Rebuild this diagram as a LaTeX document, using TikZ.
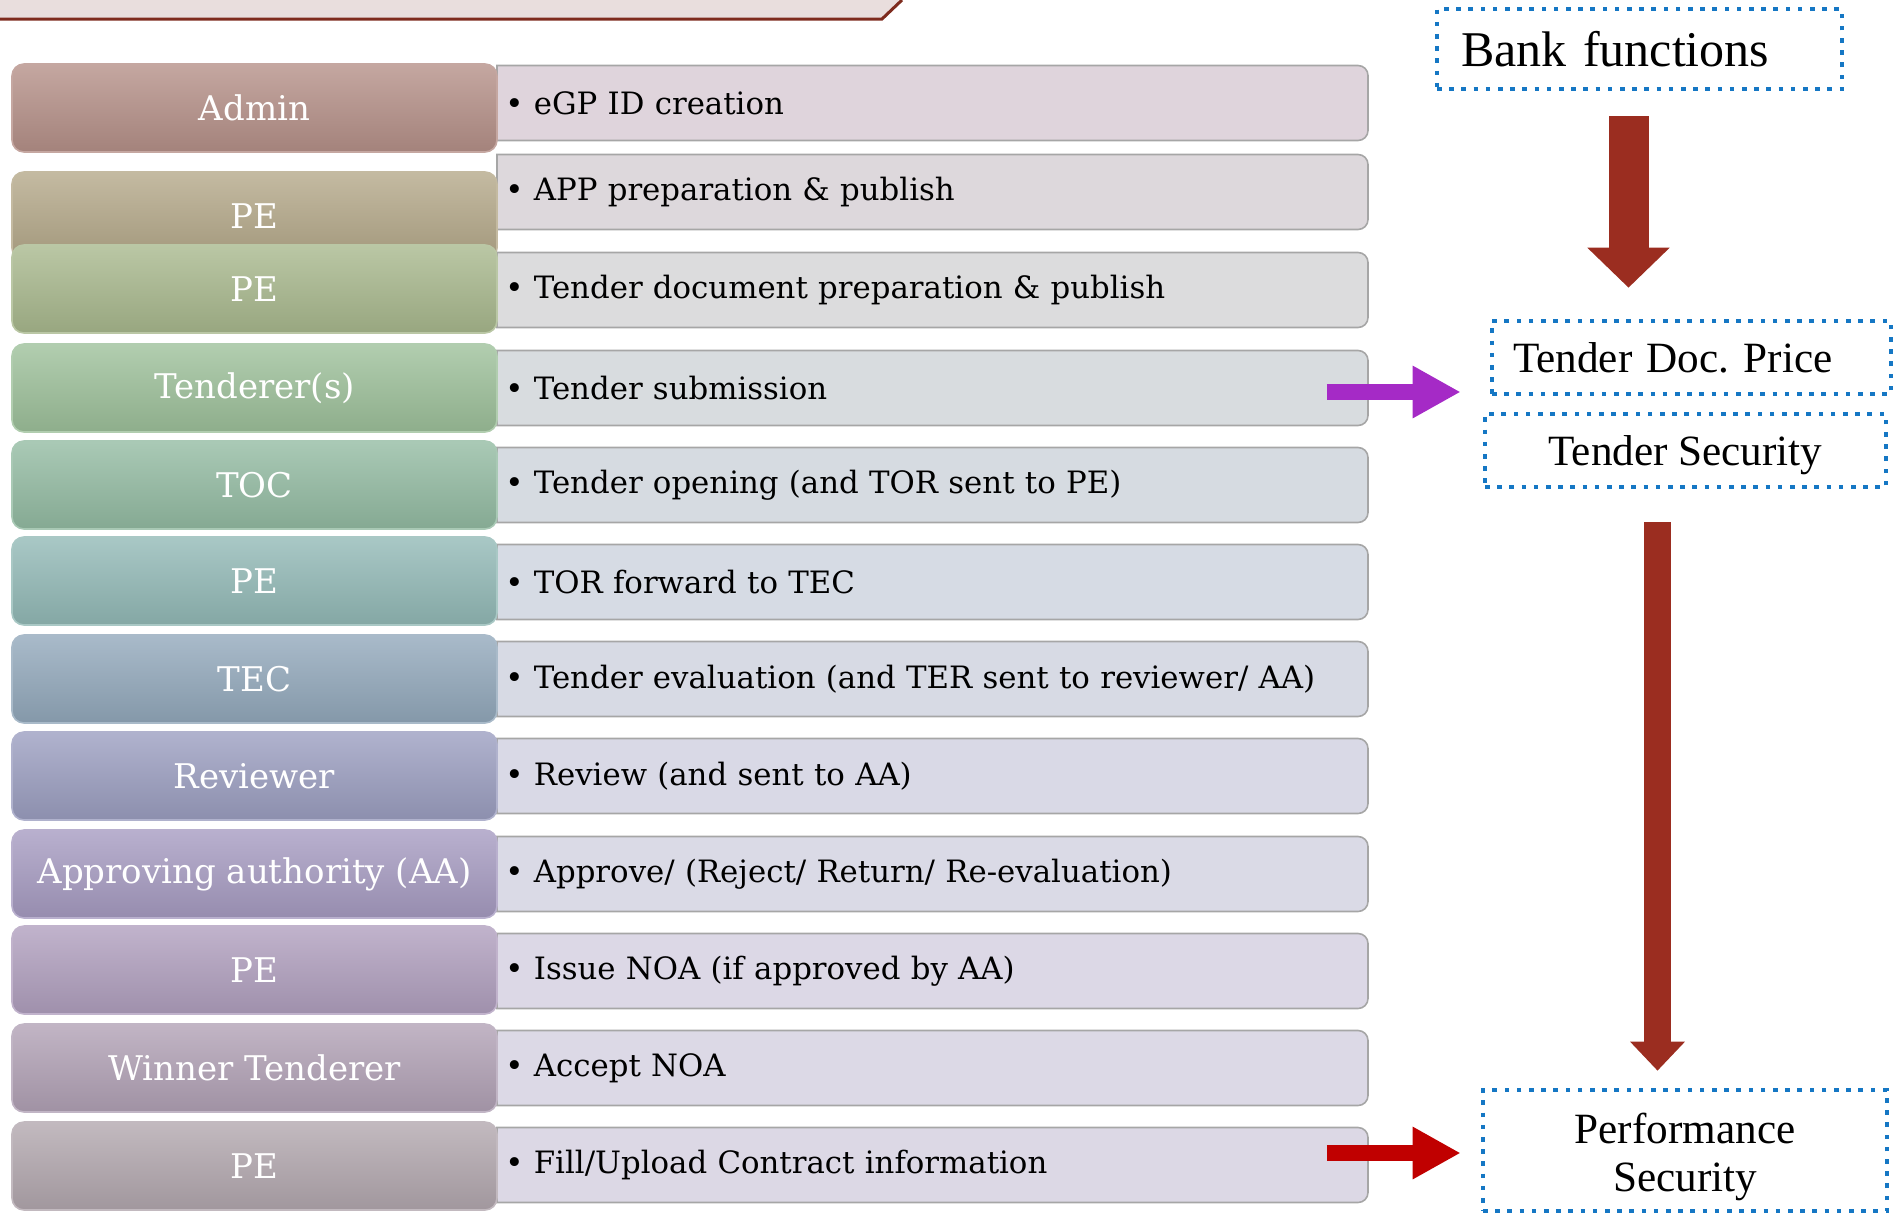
\documentclass[tikz,border=0pt]{standalone}
\usepackage{fontspec}
\setmainfont{DejaVu Serif}
\newfontfamily\bankfont{Liberation Serif}
\usetikzlibrary{calc,arrows.meta}

\definecolor{rolefill1}{HTML}{B69189}
\definecolor{rolefill2}{HTML}{B5A98A}
\definecolor{rolefill3}{HTML}{A9B98E}
\definecolor{rolefill4}{HTML}{9EC19B}
\definecolor{rolefill5}{HTML}{94BCA3}
\definecolor{rolefill6}{HTML}{93BAB7}
\definecolor{rolefill7}{HTML}{93A9BC}
\definecolor{rolefill8}{HTML}{9C9FC1}
\definecolor{rolefill9}{HTML}{A79CC2}
\definecolor{rolefill10}{HTML}{B1A0BF}
\definecolor{rolefill11}{HTML}{B2A2B6}
\definecolor{rolefill12}{HTML}{B3A8AF}
\definecolor{taskfill1}{HTML}{DFD4DC}
\definecolor{taskfill2}{HTML}{DDD8DC}
\definecolor{taskfill3}{HTML}{DCDCDD}
\definecolor{taskfill4}{HTML}{D8DCDF}
\definecolor{taskfill5}{HTML}{D6DBE1}
\definecolor{taskfill6}{HTML}{D6DBE4}
\definecolor{taskfill7}{HTML}{D7DAE4}
\definecolor{taskfill8}{HTML}{D9D9E6}
\definecolor{taskfill9}{HTML}{DADAE6}
\definecolor{taskfill10}{HTML}{DCD8E6}
\definecolor{taskfill11}{HTML}{DCD9E6}
\definecolor{taskfill12}{HTML}{DCD8E5}
\definecolor{bankblue}{HTML}{1577C4}
\definecolor{bannerfill}{HTML}{E9DEDD}
\definecolor{bannerline}{HTML}{7E2B1E}
\definecolor{downred}{HTML}{9B2D20}
\definecolor{tenderpurple}{HTML}{A52AC6}
\definecolor{perfred}{HTML}{C00000}

\tikzset{
	rolebox/.style={rounded corners=6pt, minimum width=242.5pt, minimum height=44pt, inner sep=0pt,
		top color=#1!80!white, middle color=#1, bottom color=#1!90!black, draw=#1!80!white, line width=0.8pt,
		text=white, font=\fontsize{17}{20}\selectfont},
	taskframe/.style={draw=gray!70, line width=0.8pt},
	taskbox/.style={minimum height=37.5pt, text width=427.5pt, inner xsep=4pt, inner ysep=0pt,
		align=left, anchor=west, font=\fontsize{15.4}{18}\selectfont},
	bankbox/.style={draw=bankblue, line width=2.3pt, dash pattern=on 2.3pt off 3.8pt, inner sep=0pt,
		font=\bankfont\fontsize{21.6}{24}\selectfont},
	fatarrow/.style n args={3}{line width=#1, -{Triangle[length=#2, width=#3]}}
}

\begin{document}
\begin{tikzpicture}[x=0.5pt,y=-0.5pt]
\useasboundingbox (0,0) rectangle (1893,1215);
\fill[bannerfill] (0,0) -- (902,0) -- (882,19) -- (0,19) -- cycle;
\draw[bannerline, line width=1.5pt] (0,19) -- (882,19) -- (902,0);
\foreach \i/\ty/\ry/\role/\task in {
	1/103/108/Admin/{eGP ID creation},
	2/192/216/PE/{APP preparation \& publish},
	3/290/289/PE/{Tender document preparation \& publish},
	4/388/388/{Tenderer(s)}/{Tender submission},
	5/485/485/TOC/{Tender opening (and TOR sent to PE)},
	6/582/581/PE/{TOR forward to TEC},
	7/679/679/TEC/{Tender evaluation (and TER sent to reviewer/ AA)},
	8/776/776/Reviewer/{Review (and sent to AA)},
	9/874/874/{Approving authority (AA)}/{Approve/ (Reject/ Return/ Re-evaluation)},
	10/971/970/PE/{Issue NOA (if approved by AA)},
	11/1068/1068/{Winner Tenderer}/{Accept NOA},
	12/1165/1166/PE/{Fill/Upload Contract information}} {
	\draw[taskframe, fill=taskfill\i] (497,\ty-37.5) [rounded corners=5pt] -- (1368,\ty-37.5)
		-- (1368,\ty+37.5) [sharp corners] -- (497,\ty+37.5) -- cycle;
	\node[taskbox] (task\i) at (497,\ty) {\textbullet\ \task};
	\node[rolebox=rolefill\i] (role\i) at (254.5,\ry) {\role};
}
\node[bankbox, minimum width=202.5pt, minimum height=40pt, text width=178.5pt, inner xsep=12pt, align=left,
	font=\bankfont\fontsize{25}{28}\selectfont] (bank) at (1639.5,49) {Bank functions};
\node[bankbox, minimum width=199.5pt, minimum height=36.5pt, text width=178.5pt, inner xsep=10.5pt,
	align=left] (docprice) at (1691.5,357.5) {Tender Doc.\ Price};
\node[bankbox, minimum width=200.5pt, minimum height=36.5pt, text height=20pt] (security) at (1685.5,450.5) {Tender Security};
\node[bankbox, minimum width=202pt, minimum height=60.5pt, align=center, text height=46pt] (perf) at (1685,1150.5) {Performance\\Security};
\coordinate (bankout) at ([xshift=-5.5pt,yshift=-12.5pt]bank.south);
\draw[downred, fatarrow={20pt}{20pt}{40pt}, shorten >=15.5pt] (bankout) -- (bankout |- docprice.north);
\coordinate (securityout) at ([xshift=-14pt,yshift=-16.5pt]security.south);
\draw[downred, fatarrow={13.5pt}{14.5pt}{26.5pt}, shorten >=8.5pt] (securityout) -- (securityout |- perf.north);
\coordinate (tenderout) at ([xshift=-21pt,yshift=-2pt]task4.east);
\draw[tenderpurple, fatarrow={8pt}{24pt}{24.5pt}, shorten >=14.5pt] (tenderout) -- (tenderout -| docprice.west);
\coordinate (contractout) at ([xshift=-21pt,yshift=6pt]task12.east);
\draw[perfred, fatarrow={8pt}{24pt}{24.5pt}, shorten >=10pt] (contractout) -- (contractout -| perf.west);
\end{tikzpicture}
\end{document}
